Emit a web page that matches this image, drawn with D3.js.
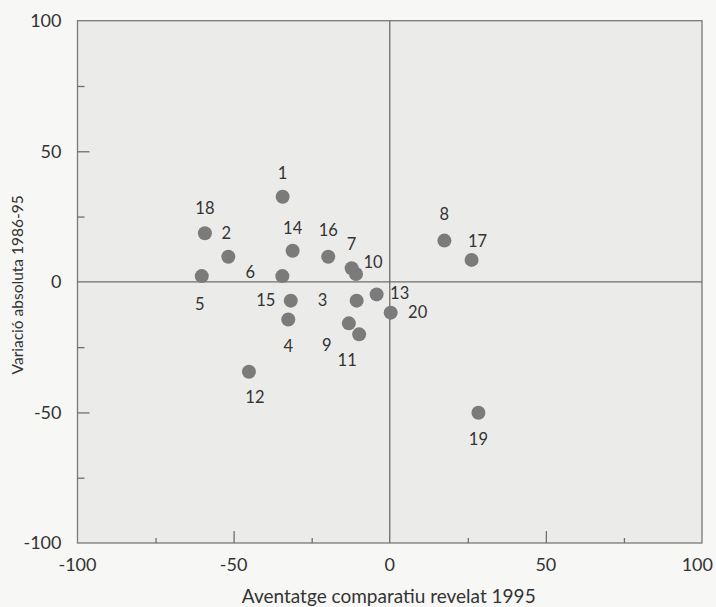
<!DOCTYPE html>
<html>
<head>
<meta charset="utf-8">
<script src="https://cdn.jsdelivr.net/npm/d3@7"></script>
<style>
  html, body { margin: 0; padding: 0; background: #f7f7f5; }
  svg { display: block; }
  text { font-family: Lato, "Open Sans", sans-serif; fill: #333; }
</style>
</head>
<body>
<svg id="chart" width="716" height="607"></svg>
<script>
// ---- Data ----
const ids     = ["1","2","3","4","5","6","7","8","9","10","11","12","13","14","15","16","17","18","19","20"];
const xValues = [-34.3,-51.7,-10.6,-32.5,-60.2,-34.4,-12.2,17.5,-13.1,-10.8,-9.8,-45.1,-4.2,-31.1,-31.7,-19.7,26.2,-59.2,28.4,0.3];
const yValues = [32.6,9.6,-7.2,-14.4,2.2,2.2,5.2,15.8,-15.9,3.0,-20.1,-34.4,-4.8,11.9,-7.2,9.6,8.4,18.6,-50.1,-11.8];
const majorTicks = [-100,-50,0,50,100];
const minorTicks = [-75,-25,25,75];
const xTitle = "Aventatge comparatiu revelat 1995";
const yTitle = "Variació absoluta 1986-95";

// label placement (pixel offsets from each point), layout only
const labelDx = [0,-2,-34,0,-2,-32,0,0,-22,17,-12,6,23,0,-25,0,6,0,0,27];
const labelDy = [-23,-24,0,27,28,-4,-24,-26,22,-12,26,26,-1,-23,0,-27,-19,-25,27,0];

(function(){
const svg = d3.select("#chart");
const pL = 77.5, pR = 702, pT = 20.7, pB = 543;
const x = d3.scaleLinear().domain([-100,100]).range([pL,pR]);
const y = d3.scaleLinear().domain([-100,100]).range([pB,pT]);

// plot background
svg.append("rect").attr("x",pL).attr("y",pT).attr("width",pR-pL).attr("height",pB-pT)
  .attr("fill","#ebebea").attr("stroke","#7a7a7a").attr("stroke-width",1.3);

// zero lines
svg.append("line").attr("x1",x(0)).attr("x2",x(0)).attr("y1",pT).attr("y2",pB)
  .attr("stroke","#6e6e6e").attr("stroke-width",1.3);
svg.append("line").attr("x1",pL).attr("x2",pR).attr("y1",y(0)).attr("y2",y(0))
  .attr("stroke","#6e6e6e").attr("stroke-width",1.3);

// axes with inward ticks
const yAxisMajor = d3.axisRight(y).tickValues([-50,50]).tickSize(12).tickFormat("");
const yAxisMinor = d3.axisRight(y).tickValues(minorTicks).tickSize(7).tickFormat("");
const xAxisMajor = d3.axisTop(x).tickValues([-50,50]).tickSize(12).tickFormat("");
const xAxisMinor = d3.axisTop(x).tickValues(minorTicks).tickSize(5).tickFormat("");
[ [yAxisMajor,`translate(${pL},0)`], [yAxisMinor,`translate(${pL},0)`],
  [xAxisMajor,`translate(0,${pB})`], [xAxisMinor,`translate(0,${pB})`] ].forEach(([ax,tr])=>{
  const g = svg.append("g").attr("transform",tr).call(ax);
  g.select(".domain").remove();
  g.selectAll(".tick line").attr("stroke","#6e6e6e").attr("stroke-width",1.3);
});

// tick labels
svg.append("g").selectAll("text").data(majorTicks).join("text")
  .attr("x",pL-16).attr("y",d=>y(d)).attr("dy","0.35em").attr("text-anchor","end")
  .attr("font-size",18).text(d=>d);
svg.append("g").selectAll("text").data(majorTicks).join("text")
  .attr("x",d=> d===100 ? x(d)+11 : x(d))
  .attr("y",pB+28)
  .attr("text-anchor",d=> d===100 ? "end" : "middle")
  .attr("font-size",18).text(d=>d);

// axis titles
svg.append("text").attr("x",(pL+pR)/2 - 1).attr("y",603).attr("text-anchor","middle")
  .attr("font-size",19).text(xTitle);
svg.append("text").attr("transform",`translate(23,${(pT+pB)/2 + 3}) rotate(-90)`)
  .attr("text-anchor","middle").attr("font-size",15.5).text(yTitle);

// points
const data = ids.map((id,i)=>({id, x:xValues[i], y:yValues[i], dx:labelDx[i], dy:labelDy[i]}));
svg.append("g").selectAll("circle").data(data).join("circle")
  .attr("cx",d=>x(d.x)).attr("cy",d=>y(d.y)).attr("r",7).attr("fill","#7b7b7b");
svg.append("g").selectAll("text").data(data).join("text")
  .attr("x",d=>x(d.x)+d.dx).attr("y",d=>y(d.y)+d.dy).attr("dy","0.35em")
  .attr("text-anchor","middle").attr("font-size",16.5).text(d=>d.id);
})();
</script>
</body>
</html>
